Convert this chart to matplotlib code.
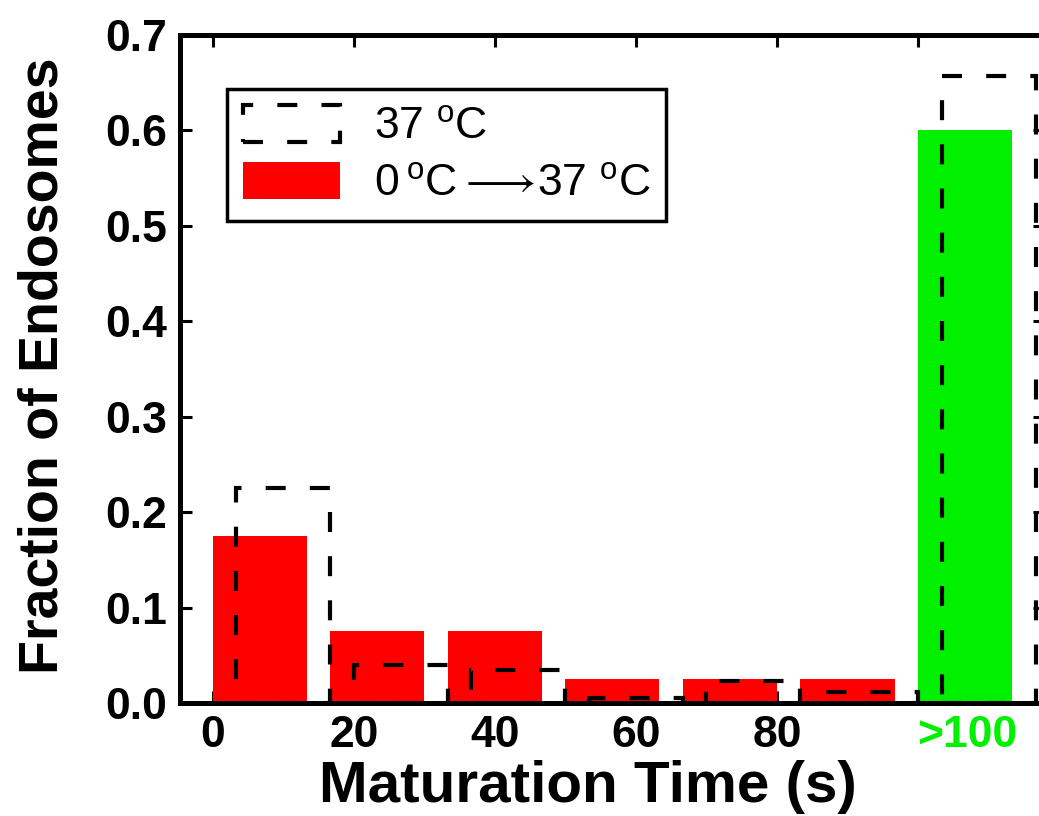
import matplotlib
matplotlib.use("Agg")
import matplotlib.pyplot as plt

plt.rcParams['font.family'] = ['Liberation Sans', 'DejaVu Sans']
plt.rcParams['mathtext.fontset'] = 'custom'
plt.rcParams['mathtext.rm'] = 'Liberation Sans'
plt.rcParams['mathtext.fallback'] = 'stixsans'

# histogram bins (s): six 16.7 s bins up to 100 s, then the ">100" bin
bin_left = [0.0, 16.667, 33.333, 50.0, 66.667, 83.333, 100.0]
frac_cold = [0.175, 0.075, 0.075, 0.025, 0.025, 0.025, 0.600]   # 0 C -> 37 C
frac_warm = [0.225, 0.040, 0.035, 0.005, 0.023, 0.011, 0.657]   # 37 C
tick_pos = [0, 20, 40, 60, 80, 100]
tick_txt = ['0', '20', '40', '60', '80', '']

bar_w = 13.333
shift = 3.333
red = '#ff0000'
green = '#00f000'

fig = plt.figure(figsize=(10.39, 8.16), dpi=100)
ax = fig.add_axes([0.1732, 0.1385, 0.8325, 0.8186])

colors = [red] * (len(bin_left) - 1) + [green]
ax.bar(bin_left, frac_cold, width=bar_w, align='edge', color=colors,
       edgecolor='none', zorder=2)
ax.bar([b + shift for b in bin_left], frac_warm, width=bar_w, align='edge',
       facecolor='none', edgecolor='black', linewidth=3,
       linestyle=(0, (4.8, 5.8)), zorder=3)

ax.set_xlim(-4.68, 118.0)
ax.set_ylim(0, 0.7)
ax.set_xticks(tick_pos)
ax.set_xticklabels(tick_txt)
ax.set_yticks([0.0, 0.1, 0.2, 0.3, 0.4, 0.5, 0.6, 0.7])
ax.set_yticklabels(['0.0', '0.1', '0.2', '0.3', '0.4', '0.5', '0.6', '0.7'])

ax.tick_params(direction='in', length=8.5, width=2.2, top=True, right=True,
               labelsize=32, pad=9)
for lab in ax.get_xticklabels() + ax.get_yticklabels():
    lab.set_fontweight('bold')
for sp in ax.spines.values():
    sp.set_linewidth(3.6)

ax.annotate('>100', xy=(107, 0), xycoords=('data', 'axes fraction'),
            xytext=(0, -9), textcoords='offset points', ha='center', va='top',
            fontsize=32, fontweight='bold', color=green)

ax.set_xlabel('Maturation Time (s)', fontsize=42, fontweight='bold')
ax.set_ylabel('Fraction of Endosomes', fontsize=40, fontweight='bold')
ax.xaxis.set_label_coords(0.472, -0.085)
ax.yaxis.set_label_coords(-0.128, 0.505)

h_warm = plt.Rectangle((0, 0), 1, 1, facecolor='none', edgecolor='black',
                       linewidth=3, linestyle=(0, (4.8, 5.8)))
h_cold = plt.Rectangle((0, 0), 1, 1, facecolor=red, edgecolor='none')
leg = ax.legend([h_warm, h_cold],
                ['37 $^{\\rm o}$C',
                 '0$\\,^{\\rm o}$C$\\longrightarrow\\!$37 $^{\\rm o}$C'],
                loc='upper left', bbox_to_anchor=(0.054, 0.919),
                borderaxespad=0, fontsize=32, frameon=True, fancybox=False,
                framealpha=1, handlelength=2.2, handleheight=0.9,
                handletextpad=0.75, borderpad=0.36, labelspacing=0.32)
leg.get_frame().set_edgecolor('black')
leg.get_frame().set_linewidth(2.5)

fig.savefig('out.png', dpi=100)
